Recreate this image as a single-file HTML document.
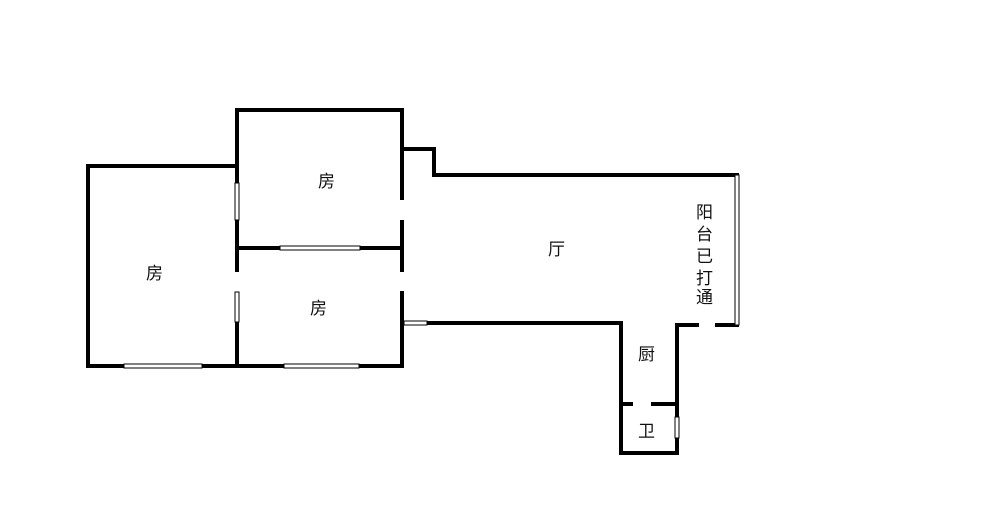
<!DOCTYPE html>
<html><head><meta charset="utf-8"><style>
html,body{margin:0;padding:0;background:#fff;width:1000px;height:514px;overflow:hidden}
text{font-family:"Liberation Sans","Noto Sans CJK SC",sans-serif;font-size:17px;fill:#111}
</style></head><body>
<svg width="1000" height="514" xmlns="http://www.w3.org/2000/svg">
<g stroke="#000" stroke-width="4" fill="none" stroke-linecap="square">
<!-- left room -->
<polyline points="237,166 88,166 88,366 402,366"/>
<!-- upper room -->
<polyline points="237,366 237,110 402,110 402,198"/>
<line x1="402" y1="222" x2="402" y2="270"/>
<line x1="402" y1="293" x2="402" y2="366"/>
<line x1="237" y1="248" x2="402" y2="248"/>
<!-- bump -->
<polyline points="402,149 434,149 434,175 737,175"/>
<!-- living bottom / kitchen -->
<polyline points="427,323 621,323 621,453 677,453 677,325 697,325"/>
<line x1="717" y1="325" x2="737" y2="325"/>
<line x1="621" y1="404" x2="631" y2="404"/>
<line x1="653" y1="404" x2="677" y2="404"/>
</g>
<!-- gaps & windows (white fills with thin lines) -->
<g fill="#fff" stroke="#000" stroke-width="1">
<rect x="235" y="183" width="4" height="37"/>
<rect x="230" y="272" width="14" height="20" stroke="none"/>
<rect x="235" y="292" width="4" height="30"/>
<rect x="280" y="246" width="80" height="4"/>
<rect x="124" y="364" width="78" height="4"/>
<rect x="284" y="364" width="75" height="4"/>
<rect x="404" y="321" width="23" height="4"/>
<rect x="735" y="175" width="4" height="150"/>
<rect x="675" y="417" width="4" height="21"/>
</g>
<text x="318" y="187">房</text>
<text x="146" y="279">房</text>
<text x="310" y="314">房</text>
<text x="548" y="255">厅</text>
<text x="638" y="360">厨</text>
<text x="638" y="437">卫</text>
<text x="696" y="218">阳</text>
<text x="696" y="240">台</text>
<text x="696" y="262">已</text>
<text x="696" y="284">打</text>
<text x="696" y="303">通</text>
</svg>
</body></html>
